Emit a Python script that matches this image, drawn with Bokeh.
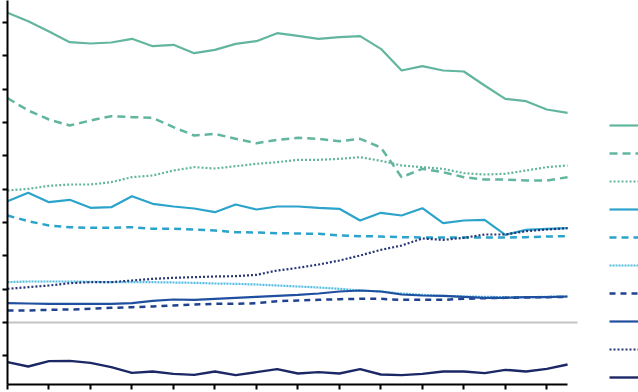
from bokeh.plotting import figure
from bokeh.models import Range1d, Legend, LegendItem, FixedTicker
from bokeh.embed import file_html
from bokeh.resources import INLINE

years = list(range(1990, 2018))

green_solid = [9.29, 9.04, 8.73, 8.41, 8.37, 8.40, 8.51, 8.29, 8.33, 8.08, 8.18, 8.36, 8.44, 8.68,
               8.60, 8.51, 8.56, 8.59, 8.21, 7.56, 7.69, 7.56, 7.53, 7.11, 6.71, 6.64, 6.39, 6.29]
green_dash = [6.73, 6.36, 6.09, 5.91, 6.06, 6.19, 6.16, 6.14, 5.86, 5.61, 5.66, 5.51, 5.38, 5.48,
              5.54, 5.51, 5.44, 5.51, 5.25, 4.36, 4.61, 4.51, 4.36, 4.29, 4.29, 4.26, 4.26, 4.36]
green_dot = [3.96, 4.01, 4.10, 4.14, 4.14, 4.21, 4.36, 4.41, 4.56, 4.66, 4.62, 4.69, 4.76, 4.81,
             4.88, 4.88, 4.91, 4.96, 4.85, 4.71, 4.66, 4.61, 4.48, 4.44, 4.46, 4.56, 4.66, 4.71]
blue_solid = [3.64, 3.89, 3.61, 3.68, 3.44, 3.46, 3.79, 3.56, 3.48, 3.42, 3.31, 3.54, 3.39, 3.48,
              3.48, 3.44, 3.41, 3.06, 3.29, 3.21, 3.43, 2.98, 3.06, 3.08, 2.63, 2.78, 2.81, 2.83]
blue_dash = [3.21, 3.04, 2.91, 2.86, 2.84, 2.84, 2.86, 2.81, 2.81, 2.79, 2.76, 2.71, 2.70, 2.68,
             2.67, 2.66, 2.61, 2.59, 2.58, 2.56, 2.55, 2.55, 2.55, 2.55, 2.55, 2.56, 2.58, 2.59]
light_dot = [1.21, 1.23, 1.23, 1.23, 1.22, 1.21, 1.21, 1.21, 1.20, 1.19, 1.17, 1.16, 1.14, 1.11,
             1.08, 1.05, 1.01, 0.96, 0.93, 0.87, 0.83, 0.80, 0.78, 0.77, 0.76, 0.76, 0.77, 0.78]
navy_dash = [0.36, 0.36, 0.38, 0.39, 0.41, 0.44, 0.46, 0.48, 0.51, 0.54, 0.56, 0.56, 0.58, 0.64,
             0.66, 0.68, 0.70, 0.71, 0.71, 0.68, 0.68, 0.68, 0.71, 0.73, 0.74, 0.75, 0.76, 0.77]
navy_solid = [0.58, 0.57, 0.56, 0.56, 0.56, 0.56, 0.58, 0.65, 0.69, 0.68, 0.71, 0.74, 0.77, 0.80,
              0.83, 0.87, 0.93, 0.96, 0.93, 0.84, 0.81, 0.80, 0.77, 0.74, 0.74, 0.76, 0.76, 0.78]
navy_dot = [1.01, 1.06, 1.11, 1.18, 1.21, 1.21, 1.26, 1.31, 1.34, 1.36, 1.38, 1.39, 1.43, 1.56,
            1.64, 1.74, 1.86, 2.01, 2.18, 2.31, 2.52, 2.48, 2.54, 2.64, 2.64, 2.74, 2.79, 2.83]
dark_solid = [-1.19, -1.32, -1.16, -1.15, -1.21, -1.34, -1.51, -1.47, -1.54, -1.57, -1.47, -1.58,
              -1.49, -1.40, -1.53, -1.49, -1.53, -1.40, -1.56, -1.58, -1.54, -1.47, -1.47, -1.52,
              -1.42, -1.47, -1.39, -1.26]

x_ticks = list(range(1990, 2017, 2))
y_ticks = list(range(-1, 10))

series = [
    (green_solid, "#62b59e", None, 2.2),
    (green_dash, "#62b59e", "8 5", 2.5),
    (green_dot, "#62b59e", "2 2", 2.2),
    (blue_solid, "#2ba3cb", None, 2.2),
    (blue_dash, "#2ba3cb", "7 5", 2.5),
    (light_dot, "#55bde0", "2 1", 2.2),
    (navy_dash, "#20438f", "6 5", 2.5),
    (navy_solid, "#1f4f9f", None, 2.2),
    (navy_dot, "#283676", "2 2", 2.2),
    (dark_solid, "#1c2766", None, 2.4),
]

p = figure(width=638, height=392, output_backend="svg", toolbar_location=None,
           x_range=Range1d(1990, 2020.42), y_range=Range1d(-1.86, 9.66),
           min_border_left=7, min_border_top=0, min_border_bottom=8, min_border_right=0)
p.outline_line_color = None
p.grid.visible = False
p.background_fill_color = "white"

for ax, ticks in ((p.xaxis[0], x_ticks), (p.yaxis[0], y_ticks)):
    ax.ticker = FixedTicker(ticks=ticks)
    ax.major_label_overrides = {t: "" for t in ticks}
    ax.major_label_text_font_size = "1px"
    ax.major_label_standoff = 0
    ax.minor_tick_line_color = None
    ax.major_tick_in = 0
    ax.major_tick_out = 5
    ax.axis_line_color = "black"
    ax.axis_line_width = 2
    ax.major_tick_line_color = "black"
    ax.major_tick_line_width = 2

p.xaxis[0].bounds = (years[0], years[-1])

# zero reference line over the data span
p.line([years[0], years[-1] + 0.48], [0, 0], line_color="#c4c4c4", line_width=2)

items = []
for vals, col, dash, lw in series:
    kw = dict(line_color=col, line_width=lw)
    if dash:
        kw["line_dash"] = dash
    r = p.line(years, vals, **kw)
    items.append(LegendItem(label="", renderers=[r]))

legend = Legend(items=items, location=(602, -7), glyph_width=30, glyph_height=28,
                label_height=28, label_width=0, label_standoff=0, spacing=0, padding=0,
                margin=0, border_line_color=None, background_fill_alpha=0,
                label_text_font_size="1px")
p.add_layout(legend)

open("out.html", "w").write(file_html(p, INLINE))
